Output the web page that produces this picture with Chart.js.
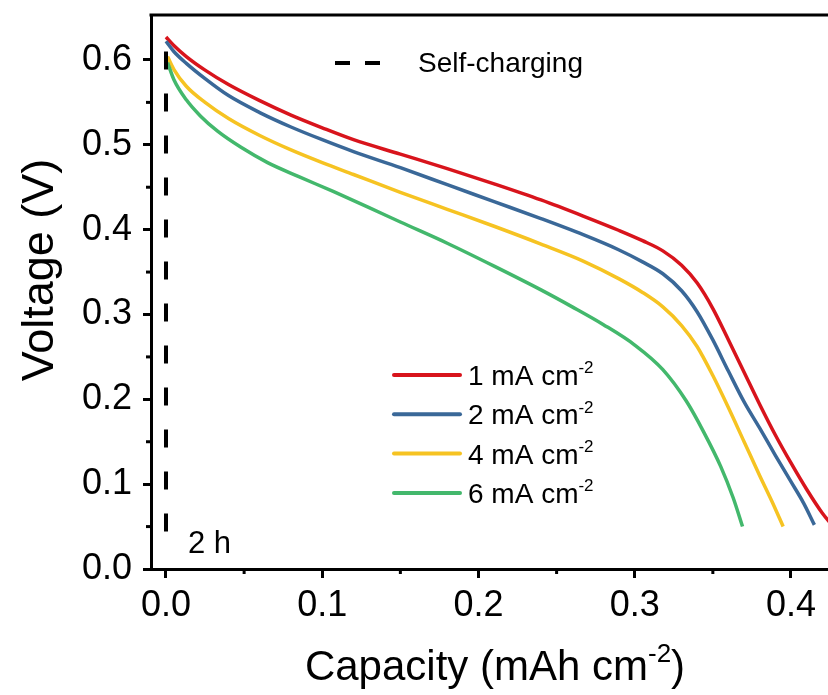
<!DOCTYPE html>
<html>
<head>
<meta charset="utf-8">
<title>Discharge curves</title>
<script src="https://cdn.jsdelivr.net/npm/chart.js@4.4.1/dist/chart.umd.min.js"></script>
<style>
  html, body { margin: 0; padding: 0; background: #fff; }
  canvas { display: block; }
</style>
</head>
<body>
<canvas id="myChart" width="828" height="695"></canvas>
<script>
// 데이터
const seriesLabels = ['1 mA cm^{-2}', '2 mA cm^{-2}', '4 mA cm^{-2}', '6 mA cm^{-2}'];
const seriesColors = ['#D8141C', '#3A6898', '#F6C322', '#43B86C'];

const cap1 = [0, 0.005, 0.013, 0.025, 0.04, 0.06, 0.08, 0.10, 0.12, 0.15, 0.18, 0.21, 0.24, 0.267, 0.29, 0.305, 0.318, 0.33, 0.34, 0.35, 0.36, 0.37, 0.38, 0.39, 0.40, 0.41, 0.42, 0.428];
const volt1 = [0.627, 0.617, 0.604, 0.588, 0.571, 0.552, 0.535, 0.520, 0.506, 0.489, 0.472, 0.454, 0.435, 0.416, 0.399, 0.387, 0.375, 0.358, 0.337, 0.307, 0.270, 0.232, 0.194, 0.158, 0.125, 0.094, 0.066, 0.048];

const cap2 = [0, 0.005, 0.013, 0.025, 0.04, 0.06, 0.08, 0.10, 0.12, 0.15, 0.18, 0.21, 0.24, 0.267, 0.29, 0.305, 0.318, 0.33, 0.34, 0.35, 0.36, 0.37, 0.38, 0.39, 0.40, 0.408, 0.415];
const volt2 = [0.622, 0.610, 0.596, 0.578, 0.558, 0.538, 0.521, 0.506, 0.492, 0.473, 0.453, 0.433, 0.413, 0.394, 0.376, 0.362, 0.348, 0.328, 0.303, 0.270, 0.233, 0.197, 0.166, 0.134, 0.103, 0.078, 0.052];

const cap4 = [0.001, 0.005, 0.013, 0.025, 0.04, 0.06, 0.08, 0.10, 0.12, 0.15, 0.18, 0.21, 0.24, 0.267, 0.29, 0.305, 0.318, 0.33, 0.34, 0.35, 0.36, 0.37, 0.38, 0.388, 0.395];
const volt4 = [0.604, 0.589, 0.569, 0.550, 0.531, 0.511, 0.494, 0.479, 0.465, 0.444, 0.424, 0.404, 0.383, 0.363, 0.342, 0.326, 0.309, 0.287, 0.262, 0.228, 0.190, 0.150, 0.110, 0.079, 0.050];

const cap6 = [0.001, 0.005, 0.013, 0.022, 0.033, 0.048, 0.065, 0.085, 0.107, 0.13, 0.15, 0.18, 0.21, 0.24, 0.26, 0.28, 0.30, 0.318, 0.333, 0.344, 0.355, 0.363, 0.369];
const volt6 = [0.597, 0.577, 0.553, 0.534, 0.516, 0.497, 0.479, 0.4625, 0.445, 0.426, 0.409, 0.384, 0.357, 0.329, 0.309, 0.288, 0.264, 0.235, 0.198, 0.162, 0.121, 0.084, 0.050];

// self-charging 점선
const capSelf = [0, 0];
const voltSelf = [0.61, 0.04];
const selfLabel = 'Self-charging';
const selfTime = '2 h';

const xTitle = 'Capacity (mAh cm^{-2})';
const yTitle = 'Voltage (V)';

const FONT = "'Liberation Sans', Arial, sans-serif";

const zip = (xs, ys) => xs.map((x, i) => ({ x: x, y: ys[i] }));

// ^{..} 부분은 위첨자로 그림
function drawRich(ctx, text, x, y, size, align) {
    const parts = text.split(/\^\{(.*?)\}/);
    const supSize = Math.round(size * 0.62);
    let total = 0;
    const widths = parts.map((p, i) => {
        ctx.font = (i % 2 ? supSize : size) + 'px ' + FONT;
        const w = ctx.measureText(p).width;
        total += w;
        return w;
    });
    let cx = align === 'center' ? x - total / 2 : x;
    ctx.textAlign = 'left';
    ctx.textBaseline = 'alphabetic';
    parts.forEach((p, i) => {
        const sup = i % 2 === 1;
        ctx.font = (sup ? supSize : size) + 'px ' + FONT;
        ctx.fillText(p, cx, sup ? y - size * 0.42 : y);
        cx += widths[i];
    });
}

const decorPlugin = {
    id: 'decor',
    afterDraw(chart) {
        const ctx = chart.ctx;
        const area = chart.chartArea;
        const xs = chart.scales.x;
        const ys = chart.scales.y;
        ctx.save();
        ctx.strokeStyle = '#000';
        ctx.fillStyle = '#000';

        // 위쪽 테두리
        ctx.lineWidth = 3;
        ctx.beginPath();
        ctx.moveTo(area.left - 1.5, area.top);
        ctx.lineTo(area.right, area.top);
        ctx.stroke();

        // 보조 눈금
        const xt = xs.ticks.map(t => t.value);
        for (let i = 0; i < xt.length - 1; i++) {
            const px = xs.getPixelForValue((xt[i] + xt[i + 1]) / 2);
            ctx.beginPath();
            ctx.moveTo(px, area.bottom);
            ctx.lineTo(px, area.bottom + 5);
            ctx.stroke();
        }
        const yt = ys.ticks.map(t => t.value);
        for (let i = 0; i < yt.length - 1; i++) {
            const py = ys.getPixelForValue((yt[i] + yt[i + 1]) / 2);
            ctx.beginPath();
            ctx.moveTo(area.left, py);
            ctx.lineTo(area.left - 5, py);
            ctx.stroke();
        }

        // 축 제목
        drawRich(ctx, xTitle, 495, 680, 42, 'center');
        ctx.save();
        ctx.translate(53, 270);
        ctx.rotate(-Math.PI / 2);
        drawRich(ctx, yTitle, 0, 0, 45, 'center');
        ctx.restore();

        // 범례
        const ds = chart.data.datasets;
        for (let i = 0; i < 4; i++) {
            const ly = 375 + i * 39.3;
            ctx.strokeStyle = ds[i].borderColor;
            ctx.lineWidth = 4;
            ctx.lineCap = 'round';
            ctx.beginPath();
            ctx.moveTo(394, ly);
            ctx.lineTo(460, ly);
            ctx.stroke();
            drawRich(ctx, ds[i].label, 468, ly + 10, 28, 'left');
        }

        ctx.strokeStyle = '#000';
        ctx.lineWidth = 4;
        ctx.lineCap = 'butt';
        ctx.setLineDash([15, 15]);
        ctx.beginPath();
        ctx.moveTo(335, 63);
        ctx.lineTo(381, 63);
        ctx.stroke();
        ctx.setLineDash([]);
        drawRich(ctx, selfLabel, 418, 72, 28, 'left');

        drawRich(ctx, selfTime, 188, 553, 31, 'left');
        ctx.restore();
    }
};

const curveSets = [[cap1, volt1], [cap2, volt2], [cap4, volt4], [cap6, volt6]];
const datasets = curveSets.map((s, i) => ({
    label: seriesLabels[i],
    data: zip(s[0], s[1]),
    borderColor: seriesColors[i],
    borderWidth: 3.5,
    pointRadius: 0,
    showLine: true,
    cubicInterpolationMode: 'monotone',
    order: 4 - i
}));
datasets.push({
    label: selfLabel,
    data: zip(capSelf, voltSelf),
    borderColor: '#000',
    borderWidth: 4,
    borderDash: [18, 24],
    borderCapStyle: 'butt',
    pointRadius: 0,
    showLine: true,
    tension: 0,
    order: 0
});

const tickFont = { family: FONT, size: 36 };

const options_chart = {
    responsive: false,
    animation: false,
    layout: { padding: { top: 15, left: 0, right: 0, bottom: 0 } },
    plugins: { legend: { display: false }, tooltip: { enabled: false } },
    scales: {
        x: {
            type: 'linear',
            min: -0.0096,
            max: 0.4237,
            ticks: {
                stepSize: 0.1, includeBounds: false, autoSkip: false, maxRotation: 0,
                color: '#000', font: tickFont, padding: 6,
                callback: v => v.toFixed(1)
            },
            grid: { drawOnChartArea: false, tickLength: 9, tickWidth: 3, tickColor: '#000' },
            border: { color: '#000', width: 3 },
            afterFit: s => { s.height = 126; s.paddingLeft = 0; s.paddingRight = 0; }
        },
        y: {
            min: 0,
            max: 0.653,
            ticks: {
                stepSize: 0.1, includeBounds: false, autoSkip: false,
                color: '#000', font: tickFont, padding: 11,
                callback: v => v.toFixed(1)
            },
            grid: { drawOnChartArea: false, tickLength: 8, tickWidth: 3, tickColor: '#000' },
            border: { color: '#000', width: 3 },
            afterFit: s => { s.width = 151; s.paddingTop = 0; s.paddingBottom = 0; }
        }
    }
};

const ctx_chart = document.getElementById('myChart').getContext('2d');
const myChart = new Chart(ctx_chart, {
    type: 'scatter',
    data: { datasets: datasets },
    options: options_chart,
    plugins: [decorPlugin]
});
</script>
</body>
</html>
